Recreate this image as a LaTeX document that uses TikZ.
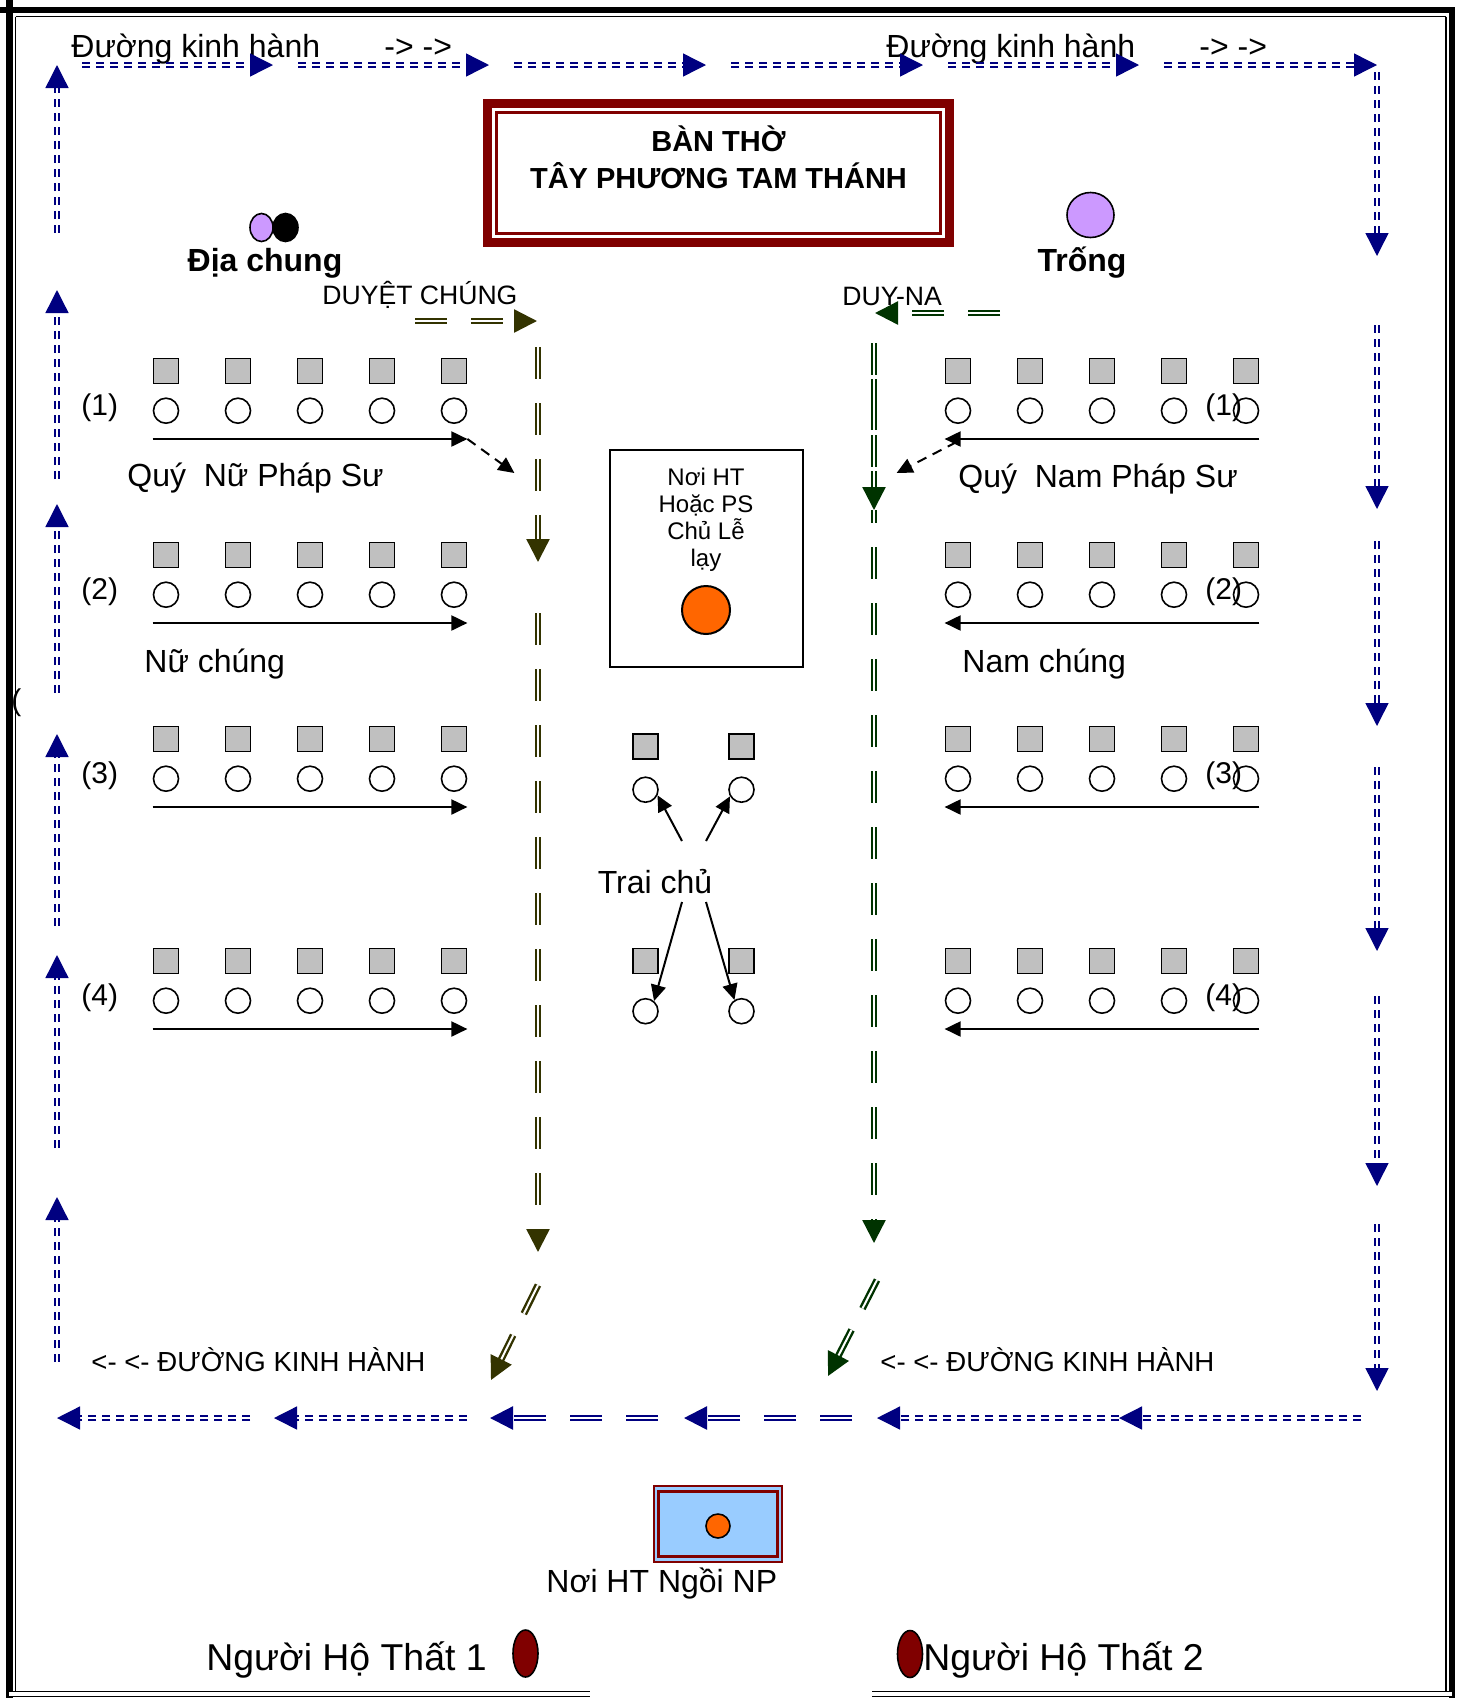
\documentclass[tikz,border=0pt]{standalone}
\usepackage{fontspec}
\setmainfont{Liberation Sans}
\usepackage{xcolor}
\usetikzlibrary{positioning, calc, arrows.meta, shapes.geometric}

\definecolor{navypath}{HTML}{000080}
\definecolor{olivepath}{HTML}{333300}
\definecolor{greenpath}{HTML}{003300}
\definecolor{darkred}{HTML}{800000}
\definecolor{seatgray}{HTML}{C0C0C0}
\definecolor{lilac}{HTML}{CC99FF}
\definecolor{orangedot}{HTML}{FF6600}
\definecolor{skyfill}{HTML}{99CCFF}

\begin{document}
\begin{tikzpicture}[x=0.5pt, y=-0.5pt,
  seat/.style = {draw, fill=seatgray, minimum size=12.5pt, inner sep=0pt, line width=0.9pt},
  circ/.style = {draw, circle, minimum size=12.5pt, inner sep=0pt, line width=0.8pt},
  txt/.style = {inner sep=0pt, font=\fontsize{16}{19}\selectfont},
  small/.style = {inner sep=0pt, font=\fontsize{13.3}{16}\selectfont},
  rowarr/.style = {line width=1pt, -{Triangle[length=8pt, width=7.5pt]}},
  dasharr/.style = {rowarr, dash pattern=on 5pt off 3.5pt},
  kinh/.style = {draw=navypath, line width=0.7pt, double=white, double distance=1.2pt,
                 dash pattern=on 4pt off 3pt, -{Triangle[length=11.5pt, width=11.5pt]}},
  duyet/.style = {line width=1.2pt, double=white, double distance=1pt,
                  dash pattern=on 16pt off 12pt, -{Triangle[length=11.5pt, width=11.5pt]}}
]
\useasboundingbox (0,0) rectangle (1463,1698);

% outer frame
\draw[line width=3.5pt] (9,0) -- (9,1698);
\draw[line width=3pt] (0,10) -- (1455,10);
\draw[line width=3pt] (1452,7) -- (1452,1698);
\draw[line width=0.75pt] (15.5,16.5) -- (1446,16.5);
\draw[line width=0.75pt] (15.5,16.5) -- (15.5,1692);
\draw[line width=0.75pt] (1446,16.5) -- (1446,1692);
\draw[line width=0.6pt, double, double distance=1.6pt] (9,1694) -- (590,1694);
\draw[line width=0.6pt, double, double distance=1.6pt] (872,1694) -- (1452,1694);
\node[inner sep=0pt, font=\fontsize{15}{18}\selectfont, anchor=base west] (stray) at (11,710) {(};

% ban tho
\node[draw=darkred, line width=4.5pt, minimum width=231pt, minimum height=69.5pt] (altar) at (718.5,173) {};
\draw[darkred, line width=1.6pt] ($(altar.north west)+(13.5,13.5)$) rectangle ($(altar.south east)+(-13.5,-13.5)$);
\node[inner sep=0pt, font=\bfseries\fontsize{14.5}{18}\selectfont, anchor=base] (altar1) at (718.5,151) {BÀN THỜ};
\node[inner sep=0pt, font=\bfseries\fontsize{14.5}{18}\selectfont, anchor=base] (altar2) at (718.5,188) {TÂY PHƯƠNG TAM THÁNH};

% dia chung, trong
\node[draw, ellipse, fill=lilac, line width=0.8pt, minimum width=11.5pt, minimum height=14pt, inner sep=0pt] (dia1) at (261.5,227.5) {};
\node[draw, ellipse, fill=black, line width=0.8pt, minimum width=12.5pt, minimum height=14pt, inner sep=0pt] (dia2) at (285.5,227.5) {};
\node[txt, font=\bfseries\fontsize{16}{19}\selectfont, anchor=base] (dialbl) at (265,271) {Địa chung};
\node[draw, ellipse, fill=lilac, line width=0.8pt, minimum width=23.5pt, minimum height=22.5pt, inner sep=0pt] (trong) at (1090.5,215) {};
\node[txt, font=\bfseries\fontsize{16}{19}\selectfont, anchor=base] (tronglbl) at (1082,271) {Trống};

% duong kinh hanh labels
\node[txt, anchor=base west] (dkh1) at (71,57) {Đường kinh hành};
\node[txt, anchor=base west] (dir1) at (384,57) {-> ->};
\node[txt, anchor=base west] (dkh2) at (886,57) {Đường kinh hành};
\node[txt, anchor=base west] (dir2) at (1199,57) {-> ->};
\node[small, font=\fontsize{13.8}{16}\selectfont, anchor=base west] (dkh3) at (91,1371) {<- <- ĐƯỜNG KINH HÀNH};
\node[small, font=\fontsize{13.8}{16}\selectfont, anchor=base west] (dkh4) at (880,1371) {<- <- ĐƯỜNG KINH HÀNH};

%--- duong kinh hanh: top ->, right down, bottom <-, left up
\foreach \a/\b in {82/273, 298/489, 514/706, 731/923, 948/1139, 1164/1377}
  \draw[kinh] (\a,65) -- (\b,65);
\foreach \a/\b in {72/256, 325/509, 541/726, 767/951, 996/1186, 1224/1391}
  \draw[kinh] (1377,\a) -- (1377,\b);
\foreach \a/\b in {1361/1119, 1119/877, 467/274, 250/57}
  \draw[kinh] (\a,1418) -- (\b,1418);
\draw[duyet, draw=navypath] (852,1418) -- (684,1418);
\draw[duyet, draw=navypath] (658,1418) -- (490,1418);
\foreach \a/\b in {233/65, 479/290, 693/504, 926/734, 1148/955, 1362/1197}
  \draw[kinh] (57,\a) -- (57,\b);

% duyet chung (olive) and duy-na (green)
\node[small, anchor=base west] (duyet) at (322,304) {DUYỆT CHÚNG};
\node[small, anchor=base west] (duyna) at (842,305) {DUY-NA};
\draw[duyet, draw=olivepath] (415,321) -- (537,321);
\draw[duyet, draw=olivepath] (538,347) -- (538,562);
\draw[duyet, draw=olivepath] (538,613) -- (538,1252);
\draw[duyet, draw=olivepath] (538,1285) -- (491,1380);
\draw[duyet, draw=greenpath] (1000,313) -- (875,313);
\draw[duyet, draw=greenpath, dash pattern=on 16pt off 2pt on 25.5pt off 2.5pt] (874,343) -- (874,510);
\draw[draw=greenpath, line width=1.2pt, double=white, double distance=1pt] (874,510) -- (874,523);
\draw[duyet, draw=greenpath] (874,547) -- (874,1243);
\draw[duyet, draw=greenpath] (877,1280) -- (828,1376);

% seat rows: left (nu), right (nam)
\foreach \r/\y in {1/371, 2/555, 3/739, 4/961}{
  \foreach \c/\x in {1/166, 2/238, 3/310, 4/382, 5/454}{
    \node[seat] (ls\r\c) at (\x,\y) {};
    \node[circ, below=6.5pt of ls\r\c] (lc\r\c) {};
  }
  \foreach \c/\x in {1/958, 2/1030, 3/1102, 4/1174, 5/1246}{
    \node[seat] (rs\r\c) at (\x,\y) {};
    \node[circ, below=6.5pt of rs\r\c] (rc\r\c) {};
  }
  \node[inner sep=0pt, font=\fontsize{15}{18}\selectfont, anchor=base west] (lno\r) at (81,\y+44) {(\r)};
  \node[inner sep=0pt, font=\fontsize{15}{18}\selectfont, anchor=base west] (rno\r) at (1205,\y+44) {(\r)};
  \coordinate (lend\r) at ([yshift=-7.5pt]lc\r5.south -| ls\r5.east);
  \coordinate (rend\r) at ([yshift=-7.5pt]rc\r1.south -| rs\r1.west);
  \draw[rowarr] ([yshift=-7.5pt]lc\r1.south -| ls\r1.west) -- (lend\r);
  \draw[rowarr] ([yshift=-7.5pt]rc\r5.south -| rs\r5.east) -- (rend\r);
}
\draw[dasharr] (lend1) -- ++(47,34);
\draw[dasharr] ($(rend1)+(12,3)$) -- ++(-60,31);

\node[txt, anchor=base west] (nups) at (127,486) {Quý~~Nữ Pháp Sư};
\node[txt, anchor=base west] (namps) at (958,487) {Quý~~Nam Pháp Sư};
\node[txt, anchor=base west] (nuch) at (144,672) {Nữ chúng};
\node[txt, anchor=base west] (namch) at (962,672) {Nam chúng};

% noi chu le
\node[draw, line width=1pt, minimum width=96.5pt, minimum height=108.5pt] (chule) at (706.5,558.5) {};
\node[inner sep=0pt, font=\fontsize{12}{13.5}\selectfont, align=center, anchor=north] (chuletxt) at (706,468) {Nơi HT\\Hoặc PS\\Chủ Lễ\\lạy};
\node[circ, fill=orangedot, minimum size=24pt, line width=1pt] (chuledot) at (706,610) {};

% trai chu
\node[seat] (ts1) at (645.5,746.5) {};
\node[seat] (ts2) at (741.5,746.5) {};
\node[circ, below=8.25pt of ts1] (tc1) {};
\node[circ, below=8.25pt of ts2] (tc2) {};
\node[seat] (ts3) at (645.5,961) {};
\node[seat] (ts4) at (741.5,961) {};
\node[circ, below=11.75pt of ts3] (tc3) {};
\node[circ, below=11.75pt of ts4] (tc4) {};
\node[txt, anchor=base] (trai) at (655,893) {Trai chủ};
\draw[rowarr] ($(trai.base)+(27,-52)$) -- (tc1.-25);
\draw[rowarr] ($(trai.base)+(51,-52)$) -- (tc2.210);
\draw[rowarr] ($(trai.base)+(27,9)$) -- (tc3.50);
\draw[rowarr] ($(trai.base)+(51,9)$) -- (tc4.122);

% noi HT ngoi NP
\node[draw=darkred, fill=skyfill, line width=0.75pt, minimum width=64pt, minimum height=38pt] (npbox) at (718,1524) {};
\draw[darkred, line width=1.5pt] ($(npbox.north west)+(5,6)$) rectangle ($(npbox.south east)+(-5,-6)$);
\node[circ, fill=orangedot, minimum size=12pt] (npdot) at (718,1526) {};
\node[txt, anchor=base west] (nplbl) at (546,1592) {Nơi HT Ngồi NP};

% nguoi ho that
\node[inner sep=0pt, font=\fontsize{18.7}{22}\selectfont, anchor=base west] (ht1) at (206,1670) {Người Hộ Thất 1};
\node[draw, ellipse, fill=darkred, line width=0.8pt, minimum width=12.5pt, minimum height=23.5pt, inner sep=0pt] (ht1dot) at (525.5,1653.5) {};
\node[draw, ellipse, fill=darkred, line width=0.8pt, minimum width=12.5pt, minimum height=23.5pt, inner sep=0pt] (ht2dot) at (910,1654) {};
\node[inner sep=0pt, font=\fontsize{18.7}{22}\selectfont, anchor=base west] (ht2) at (923,1670) {Người Hộ Thất 2};

\end{tikzpicture}
\end{document}
